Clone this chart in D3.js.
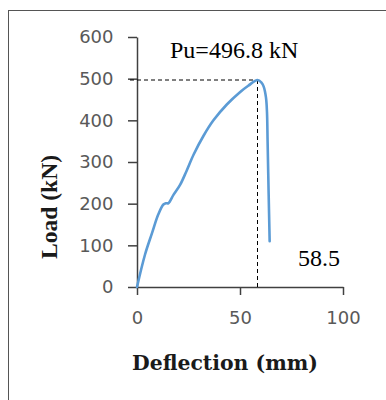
<!DOCTYPE html>
<html>
<head>
<meta charset="utf-8">
<script src="https://cdn.jsdelivr.net/npm/d3@7"></script>
<style>
  html, body { margin: 0; padding: 0; background: #fff; }
  svg { display: block; }
</style>
</head>
<body>
<svg id="chart" width="386" height="400"></svg>
<script>
// Data
const deflection = [0, 3.9, 7.2, 10.4, 12.8, 14, 15.2, 17.7, 20.9, 24, 27.5, 32.3, 37.1, 43.6, 50.1, 54, 58.5, 60.5, 61.5, 62.6, 63.1, 63.4, 63.9, 64.4];
const load =       [0, 78, 128, 175, 198, 201, 201, 221, 245, 278, 318, 363, 400, 438, 468, 483, 496.8, 490, 481, 455, 420, 349, 225, 110];
const xTicks = [0, 50, 100];
const yTicks = [0, 100, 200, 300, 400, 500, 600];
const peakLoad = 496.8;
const peakDeflection = 58.5;
const peakLabel = "Pu=496.8 kN";
const deflLabel = "58.5";
const xTitle = "Deflection (mm)";
const yTitle = "Load (kN)";

const svg = d3.select("#chart");

// outer frame
svg.append("rect")
  .attr("x", 8.5).attr("y", 10.5)
  .attr("width", 420).attr("height", 420)
  .attr("fill", "none").attr("stroke", "#555").attr("stroke-width", 1);

const x = d3.scaleLinear().domain([0, 100]).range([137, 343]);
const y = d3.scaleLinear().domain([0, 600]).range([287, 37]);

const axisColor = "#404040";
const tickFont = "'DejaVu Sans', Verdana, sans-serif";

// y axis
const gy = svg.append("g")
  .attr("transform", `translate(${x(0)},0)`)
  .call(d3.axisLeft(y).tickValues(yTicks).tickSize(9).tickSizeOuter(0).tickPadding(14.5));
// x axis
const gx = svg.append("g")
  .attr("transform", `translate(0,${y(0)})`)
  .call(d3.axisBottom(x).tickValues(xTicks).tickSize(8).tickSizeOuter(0).tickPadding(16));

[gx, gy].forEach(g => {
  g.select(".domain").attr("stroke", axisColor).attr("stroke-width", 1.5);
  g.selectAll(".tick line").attr("stroke", axisColor).attr("stroke-width", 1.5);
  g.selectAll(".tick text")
    .attr("fill", "#595959")
    .style("font-family", tickFont)
    .style("font-size", "18px");
});

// dashed guide lines
svg.append("line")
  .attr("x1", x(0) - 7).attr("y1", y(peakLoad))
  .attr("x2", x(peakDeflection)).attr("y2", y(peakLoad))
  .attr("stroke", "#000").attr("stroke-width", 1).attr("stroke-dasharray", "4,3");
svg.append("line")
  .attr("x1", x(peakDeflection)).attr("y1", y(peakLoad))
  .attr("x2", x(peakDeflection)).attr("y2", y(0))
  .attr("stroke", "#000").attr("stroke-width", 1).attr("stroke-dasharray", "4,3");

// curve
const pts = deflection.map((d, i) => [d, load[i]]);
svg.append("path")
  .datum(pts)
  .attr("fill", "none")
  .attr("stroke", "#5B9BD5")
  .attr("stroke-width", 2.6)
  .attr("stroke-linejoin", "round")
  .attr("stroke-linecap", "round")
  .attr("d", d3.line().x(d => x(d[0])).y(d => y(d[1])).curve(d3.curveCatmullRom.alpha(0.5)));

const serif = "'Liberation Serif', 'Times New Roman', serif";

svg.append("text")
  .attr("x", 170).attr("y", 58)
  .style("font-family", serif).style("font-size", "24px")
  .attr("fill", "#000")
  .text(peakLabel);

svg.append("text")
  .attr("x", 298).attr("y", 266)
  .style("font-family", serif).style("font-size", "24px")
  .attr("fill", "#000")
  .text(deflLabel);

svg.append("text")
  .attr("x", 225).attr("y", 370)
  .attr("text-anchor", "middle")
  .attr("textLength", 186).attr("lengthAdjust", "spacingAndGlyphs")
  .style("font-family", "'DejaVu Serif', serif").style("font-weight", "bold").style("font-size", "21px")
  .attr("fill", "#1a1a1a")
  .text(xTitle);

svg.append("text")
  .attr("transform", "translate(57,207) rotate(-90)")
  .attr("text-anchor", "middle")
  .attr("textLength", 104).attr("lengthAdjust", "spacingAndGlyphs")
  .style("font-family", serif).style("font-weight", "bold").style("font-size", "24px")
  .attr("fill", "#1a1a1a")
  .text(yTitle);
</script>
</body>
</html>
